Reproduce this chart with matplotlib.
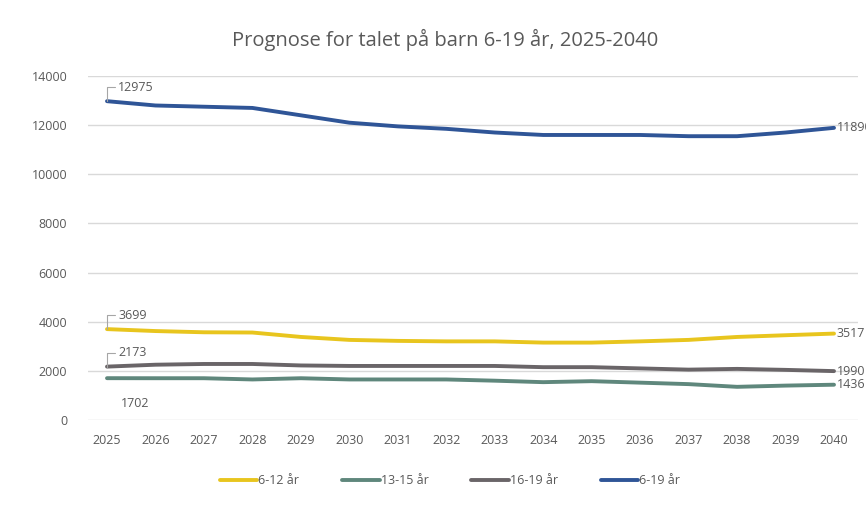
import matplotlib.pyplot as plt

plt.rcParams['font.family'] = ['Open Sans', 'DejaVu Sans']

years = list(range(2025, 2041))
barn_6_12 = [3699, 3620, 3570, 3560, 3380, 3260, 3220, 3200, 3200, 3150, 3150, 3200, 3260, 3380, 3450, 3517]
barn_13_15 = [1702, 1700, 1700, 1650, 1700, 1650, 1650, 1650, 1600, 1540, 1580, 1520, 1460, 1350, 1400, 1436]
barn_16_19 = [2173, 2250, 2280, 2280, 2220, 2200, 2200, 2200, 2200, 2150, 2150, 2100, 2050, 2080, 2040, 1990]
barn_6_19 = [12975, 12800, 12750, 12700, 12400, 12100, 11950, 11850, 11700, 11600, 11600, 11600, 11550, 11550, 11700, 11890]

series = [
    ("6-12 år", barn_6_12, "#E8C51E"),
    ("13-15 år", barn_13_15, "#5F877C"),
    ("16-19 år", barn_16_19, "#6A6568"),
    ("6-19 år", barn_6_19, "#2F5597"),
]

txt = "#595959"

fig = plt.figure(figsize=(8.66, 5.07), dpi=100)
ax = fig.add_axes([88 / 866, 1 - 420 / 507, 770 / 866, 344 / 507])

for name, vals, col in series:
    ax.plot(years, vals, color=col, lw=2.8, label=name, solid_capstyle="round")

ax.set_xlim(2025 - 0.392, 2040 + 0.495)
ax.set_ylim(0, 14000)
ax.set_yticks(range(0, 14001, 2000))
ax.set_xticks(years)
ax.grid(axis="y", color="#D9D9D9", lw=1)
ax.set_axisbelow(True)
for s in ax.spines.values():
    s.set_visible(False)
ax.tick_params(length=0, colors=txt, labelsize=9)
ax.tick_params(axis="y", pad=15)
ax.tick_params(axis="x", pad=10)

# start labels with leader lines
for vals in (barn_6_19, barn_6_12, barn_16_19):
    ax.annotate(str(vals[0]), xy=(years[0], vals[0]), xytext=(8, 10),
                textcoords="offset points", fontsize=9, color=txt,
                va="center", ha="left",
                arrowprops=dict(arrowstyle="-", color="#A6A6A6", lw=0.8,
                                shrinkA=0, shrinkB=0,
                                connectionstyle="angle,angleA=0,angleB=90,rad=0"))
ax.annotate(str(barn_13_15[0]), xy=(years[0], barn_13_15[0]), xytext=(10, -18),
            textcoords="offset points", fontsize=9, color=txt, va="center", ha="left")

# end labels
for name, vals, col in series:
    ax.annotate(str(vals[-1]), xy=(years[-1], vals[-1]), xytext=(2, 0),
                textcoords="offset points", fontsize=9, color=txt,
                va="center", ha="left", annotation_clip=False)

fig.suptitle("Prognose for talet på barn 6-19 år, 2025-2040", x=445 / 866, y=1 - 40 / 507,
             va="center", fontsize=14.5, color=txt)

fig.legend(loc="center", bbox_to_anchor=(450 / 866, 1 - 481 / 507), ncol=4, frameon=False,
           fontsize=9, labelcolor=txt, handlelength=3.0, columnspacing=3.4, handletextpad=0.1)

fig.savefig("out.png", dpi=100)
